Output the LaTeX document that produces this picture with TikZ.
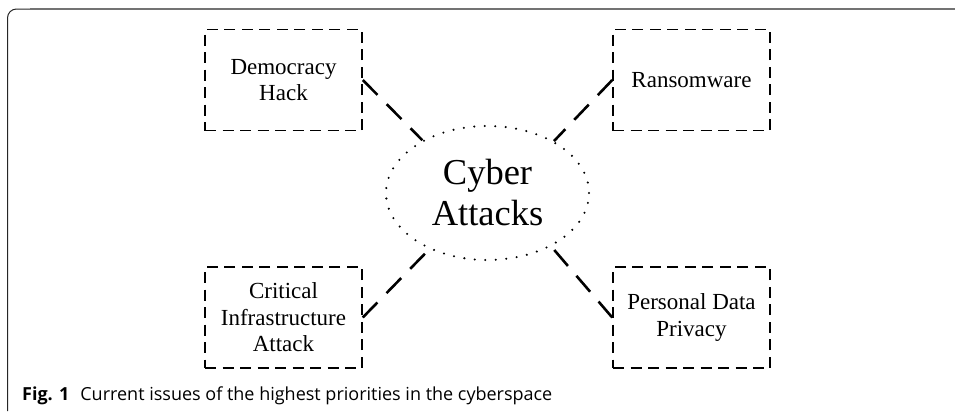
\documentclass[tikz,border=0pt]{standalone}
\usepackage{fontspec}
\setmainfont{Liberation Serif}
\newfontfamily\capfont{Open Sans}
\usetikzlibrary{shapes.geometric}
\tikzset{
  issuebox/.style={draw, line width=1.5pt, dash pattern=on 11pt off 6.5pt,
    minimum width=157pt, minimum height=101pt, inner sep=0pt, align=center,
    font=\fontsize{23pt}{26.5pt}\selectfont},
  hub/.style={ellipse, draw, line width=2.3pt, line cap=round, dash pattern=on 0pt off 10.5pt,
    minimum width=203pt, minimum height=134pt, inner sep=0pt, align=center,
    font=\fontsize{36.5pt}{41pt}\selectfont},
  link/.style={line width=2.6pt, dash pattern=on 21pt off 13pt}
}
\begin{document}
\begin{tikzpicture}[x=1pt,y=-1pt]
\useasboundingbox (0,0) rectangle (955,413);
% frame
\draw[black!85, line width=1pt, rounded corners=9pt] (7.5,411) -- (7.5,9) -- (40,9);
\draw[black!55, line width=1.2pt] (30,9) -- (955,9);
% nodes
\node[hub] (cy) at (487.5,193) {Cyber\\Attacks};
\node[issuebox] (dh) at (283.5,80) {Democracy\\Hack};
\node[issuebox] (rw) at (691.5,80) {Ransomware};
\node[issuebox] (ci) at (283.5,317.5) {Critical\\Infrastructure\\Attack};
\node[issuebox] (pd) at (691.5,317.5) {Personal Data\\Privacy};
% links
\draw[link] (dh.east) -- (cy.141.7);
\draw[link] (rw.west) -- (cy.38.3);
\draw[link] (ci.east) -- (cy.224.8);
\draw[link] (pd.west) -- (cy.320.5);
% caption
\node[anchor=base west, inner sep=0pt, font=\capfont\fontsize{18pt}{21pt}\selectfont] (cap) at (22,400)
  {\textbf{Fig. 1}\hspace{11pt}Current issues of the highest priorities in the cyberspace};
\end{tikzpicture}
\end{document}
